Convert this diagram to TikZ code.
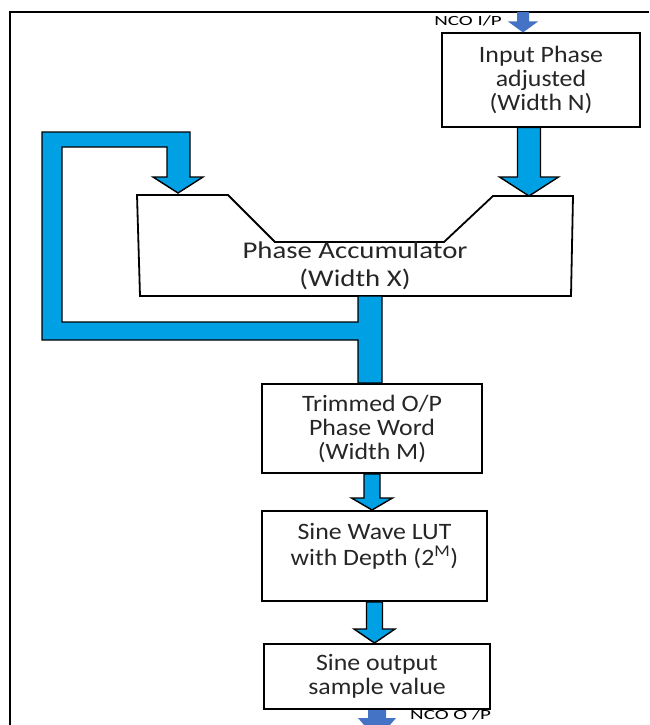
\documentclass[tikz,border=0pt]{standalone}
\usepackage{fontspec}
\setmainfont{Carlito}
\newfontfamily\boxfont{Carlito}[FakeStretch=1.1]
\newfontfamily\accfont{Carlito}[FakeStretch=1.2]
\newfontfamily\ncofont{Carlito}[FakeStretch=1.5]
\usetikzlibrary{positioning, calc}

\definecolor{pipeblue}{RGB}{0,160,228}
\definecolor{ncoblue}{RGB}{68,114,196}

\tikzset{
  blockbox/.style={draw, rectangle, line width=2pt, align=center, inner sep=0pt,
    text=black!85, font=\boxfont\fontsize{23.5}{24}\selectfont},
  pipe/.style={fill=pipeblue, draw=black, line width=1.4pt, line join=miter},
  ncoarrow/.style={fill=ncoblue, draw=none},
  ncolabel/.style={font=\ncofont\fontsize{14}{14}\selectfont, inner sep=0pt}
}

% block arrow pointing down: [style]{from}{to}{shaft half}{head half}{head length}
\newcommand{\fatarrow}[6][pipe]{%
  \filldraw[#1] let \p1=(#2), \p2=(#3) in
    (\x1-#4pt,\y1) -- (\x1-#4pt,\y2+#6pt) -- (\x1-#5pt,\y2+#6pt) -- (\x1,\y2)
    -- (\x1+#5pt,\y2+#6pt) -- (\x1+#4pt,\y2+#6pt) -- (\x1+#4pt,\y1) -- cycle;}

\begin{document}
\begin{tikzpicture}[x=1pt, y=-1pt]
  \useasboundingbox (0,0) rectangle (649,725);
  \clip (0,0) rectangle (649,725);
  % page frame
  \draw[line width=1.5pt] (10,730) -- (10,12) -- (649,12);

  \node (inp) [blockbox, minimum width=198pt, minimum height=93pt] at (541,80) {Input Phase\\adjusted\\(Width N)};
  \node (ncoinlbl) [ncolabel, anchor=east] at (502,21) {NCO I/P};
  \coordinate (ncoin) at (523,12);

  % phase accumulator outline
  \draw[line width=1.8pt, line join=miter] (137,195) -- (228,195) -- (275,242) -- (444,242)
    -- (493,196) -- (573,196) -- (571,296) -- (140,296) -- cycle;
  \node (acc) [align=center, text=black!85, font=\accfont\fontsize{24}{28}\selectfont] at (355,266) {Phase Accumulator\\(Width X)};
  \coordinate (accR) at (529,196);
  \coordinate (accL) at (178,193);
  \coordinate (accB) at (370,296);

  \node (trim) [blockbox, minimum width=220pt, minimum height=89pt] at (372,428.5) {Trimmed O/P\\Phase Word\\(Width M)};
  \node (lut) [blockbox, minimum width=225pt, minimum height=90pt, below=36pt of trim, xshift=2.5pt,
    text depth=23pt, font=\boxfont\fontsize{23.5}{26}\selectfont] {Sine Wave LUT\\with Depth (2\textsuperscript{M})};
  \node (out) [blockbox, minimum width=226pt, minimum height=65pt, below=41pt of lut, xshift=2.5pt] {Sine output\\sample value};
  \node (ncooutlbl) [ncolabel, anchor=west] at (410,715) {NCO O /P};
  \coordinate (ncoout) at (372,740);

  % arrows
  \fatarrow[ncoarrow]{ncoin}{inp.north -| ncoin}{6}{15}{11}
  \fatarrow{inp.south -| accR}{accR}{11.5}{29.5}{19}
  \fatarrow{trim.south}{lut.north -| trim.south}{8}{20.5}{12}
  \fatarrow{lut.south}{out.north -| lut.south}{8}{20.5}{14}
  \fatarrow[ncoarrow]{out.south}{ncoout}{9}{19}{22}

  % feedback loop and tap to trimmed word
  \filldraw[pipe] (accB) ++(-12,0) |- (62,322) |- (167,147) -- (167,177) -- (153,177) -- (accL)
    -- (203,177) -- (190,177) |- (42,132) |- (358,340) -- (358,0 |- trim.north)
    -- (382,0 |- trim.north) -- (382,296) -- cycle;
\end{tikzpicture}
\end{document}
